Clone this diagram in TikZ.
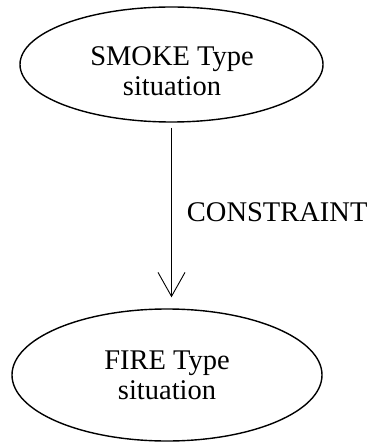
\documentclass[tikz,border=0pt]{standalone}
\usepackage{fontspec}
\setmainfont{Liberation Serif}
\usetikzlibrary{arrows.meta,shapes.geometric}
\begin{document}
\begin{tikzpicture}[x=1pt,y=-1pt,
  sit/.style={draw, ellipse, line width=1.4pt, inner sep=0pt},
  lbl/.style={align=center, inner sep=0pt, font=\fontsize{28.5}{30}\selectfont},
  rel/.style={line width=0.9pt, -{Straight Barb[length=24pt,width=27pt,line width=0.9pt]}}]
\useasboundingbox (0,0) rectangle (371,446);
% situation types
\node[sit, minimum width=303pt, minimum height=115pt] (smoke) at (171.5,64.5) {};
\node[lbl] (smoketext) at (172,71.4) {SMOKE Type\\situation};
\node[sit, minimum width=310pt, minimum height=132pt] (fire) at (167,375) {};
\node[lbl] (firetext) at (167,375.4) {FIRE Type\\situation};
% constraint between them
\draw[rel] ([yshift=-5pt]smoke.south) -- ([yshift=11pt]smoke.south |- fire.north)
  node[midway, anchor=west, xshift=15pt, inner sep=0pt, font=\fontsize{28.5}{30}\selectfont] (constraint) {CONSTRAINT};
\end{tikzpicture}
\end{document}
